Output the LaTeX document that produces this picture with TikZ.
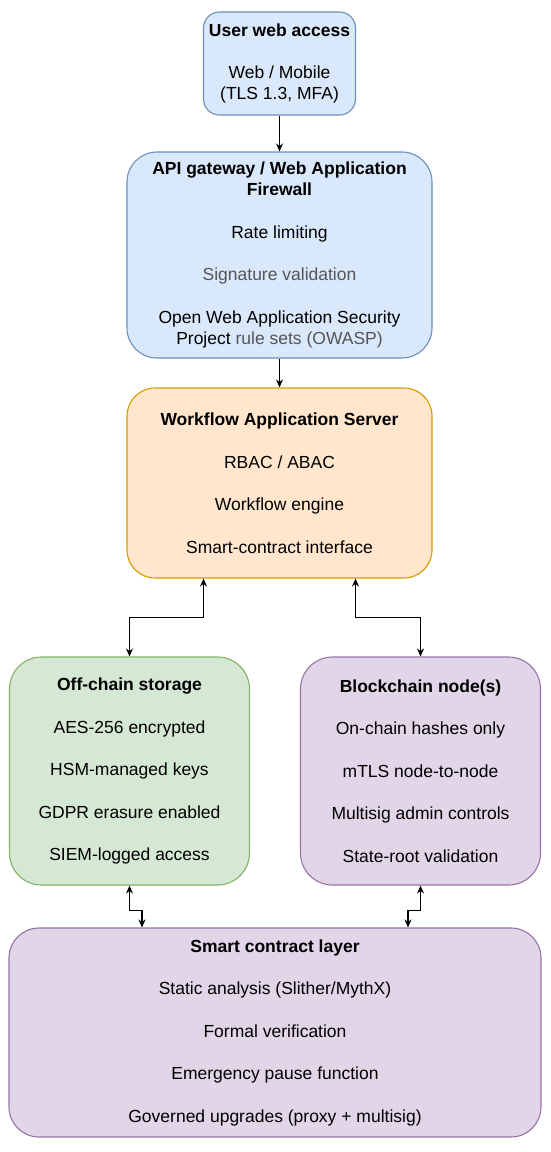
\documentclass[tikz,border=0pt]{standalone}
\usepackage{fontspec}
\setmainfont{Liberation Sans}
\usetikzlibrary{arrows.meta,positioning}
\definecolor{blueFill}{HTML}{DAE8FC}
\definecolor{blueLine}{HTML}{6C8EBF}
\definecolor{orangeFill}{HTML}{FFE6CC}
\definecolor{orangeLine}{HTML}{D79B00}
\definecolor{greenFill}{HTML}{D5E8D4}
\definecolor{greenLine}{HTML}{82B366}
\definecolor{purpleFill}{HTML}{E1D5E7}
\definecolor{purpleLine}{HTML}{9673A6}
\definecolor{softText}{HTML}{555555}
\begin{document}
\begin{tikzpicture}[x=1pt, y=1pt,
    box/.style={draw, rounded corners=#1, line width=1.1pt, align=center,
        inner sep=0pt, font=\fontsize{17.5}{21}\selectfont},
    link/.style={-{Stealth[length=8pt,width=7pt]}, line width=1.2pt},
    twoway/.style={{Stealth[length=8pt,width=7pt]}-{Stealth[length=8pt,width=7pt]}, line width=1.2pt}]
    \useasboundingbox (0,0) rectangle (550,-1152);
    % top column
    \node[box=16pt, fill=blueFill, draw=blueLine, minimum width=152pt, minimum height=103pt]
        (user) at (279.5,-63.5)
        {\textbf{User web access}\\[21.5pt] Web / Mobile\\(TLS 1.3, MFA)};
    \node[box=30pt, fill=blueFill, draw=blueLine, minimum width=305pt, minimum height=206pt]
        (gate) at (279.5,-255)
        {\textbf{API gateway / Web Application}\\\textbf{Firewall}\\[21.5pt]
         Rate limiting\\[21.5pt]
         {\color{softText}Signature validation}\\[21.5pt]
         Open Web Application Security\\Project {\color{softText}rule sets (OWASP)}};
    \node[box=28pt, fill=orangeFill, draw=orangeLine, minimum width=305pt, minimum height=190pt]
        (flow) at (279.5,-483)
        {\textbf{Workflow Application Server}\\[21.5pt]
         RBAC / ABAC\\[21.5pt]
         Workflow engine\\[21.5pt]
         Smart-contract interface};
    % middle row
    \node[box=32pt, fill=greenFill, draw=greenLine, minimum width=240pt, minimum height=228pt]
        (store) at (129.5,-771)
        {\textbf{Off-chain storage}\\[21.5pt]
         AES-256 encrypted\\[21.5pt]
         HSM-managed keys\\[21.5pt]
         GDPR erasure enabled\\[21.5pt]
         SIEM-logged access};
    \node[box=32pt, fill=purpleFill, draw=purpleLine, minimum width=240pt, minimum height=228pt]
        (chain) at (420.5,-771)
        {\textbf{Blockchain node(s)}\\[21.5pt]
         On-chain hashes only\\[21.5pt]
         mTLS node-to-node\\[21.5pt]
         Multisig admin controls\\[21.5pt]
         State-root validation};
    % bottom layer
    \node[box=30pt, fill=purpleFill, draw=purpleLine, minimum width=532pt, minimum height=209pt]
        (layer) at (275,-1032.5)
        {\textbf{Smart contract layer}\\[21.5pt]
         Static analysis (Slither/MythX)\\[21.5pt]
         Formal verification\\[21.5pt]
         Emergency pause function\\[21.5pt]
         Governed upgrades (proxy + multisig)};
    % connectors
    \draw[link] (user) -- (gate);
    \draw[link] (gate) -- (flow);
    \draw[twoway] ([xshift=-76pt]flow.south) -- ++(0,-39) -| (store.north);
    \draw[twoway] ([xshift=76pt]flow.south) -- ++(0,-39) -| (chain.north);
    \draw[twoway] (store.south) -- ++(0,-25) -| ([xshift=-133pt]layer.north);
    \draw[twoway] (chain.south) -- ++(0,-25) -| ([xshift=133pt]layer.north);
\end{tikzpicture}
\end{document}
